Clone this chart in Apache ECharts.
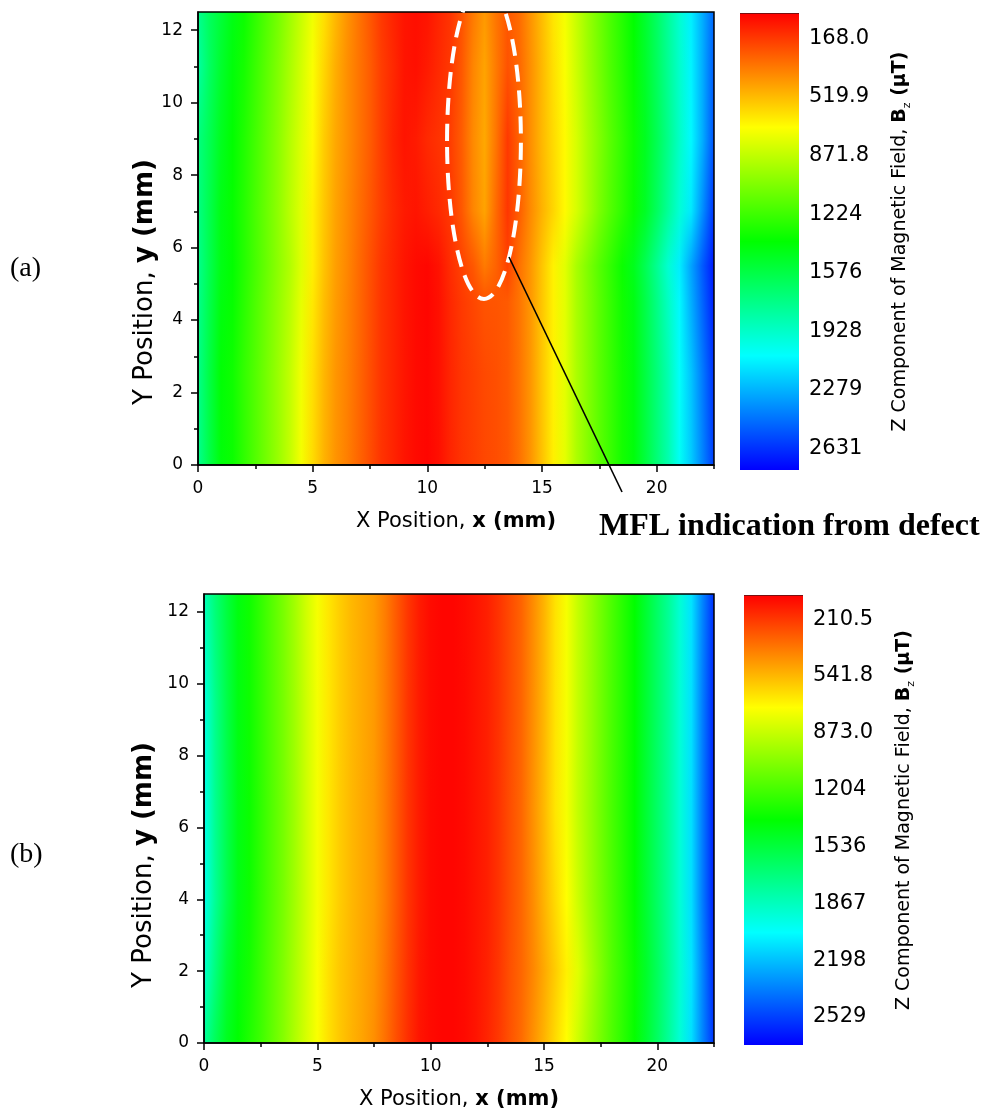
<!DOCTYPE html>
<html><head><meta charset="utf-8">
<script src="https://cdn.jsdelivr.net/npm/echarts@6/dist/echarts.min.js"></script>
<style>html,body{margin:0;padding:0;background:#fff}#c{width:986px;height:1120px}</style>
</head><body><div id="c"></div>
<script>
// ---------- data (Bz in µT) ----------
const xs = [0,0.5,1,1.5,2,2.5,3,3.5,4,4.5,5,5.5,6,6.5,7,7.5,8,8.5,9,9.5,10,10.5,11,11.5,12,12.5,13,13.5,14,14.5,15,15.5,16,16.5,17,17.5,18,18.5,19,19.5,20,20.5,21,21.5,22,22.5];

// (a) with defect: rows at y positions
const ysA = [0, 2.5, 4.5, 5.5, 7, 9, 11, 12.5];
const bzA_y0    = [1773,1581,1416,1361,1265,1169,1073,977,867,730,606,496,414,359,291,222,153,112,71,43,30,57,112,153,181,208,222,249,318,414,538,661,771,922,1032,1141,1238,1334,1416,1553,1704,1855,2047,2212,2404,2596];
const bzA_y2_5  = [1760,1570,1400,1350,1255,1165,1070,975,870,740,615,505,420,362,295,225,155,112,72,44,32,60,115,158,185,212,228,255,322,420,545,665,775,925,1035,1145,1240,1336,1420,1560,1710,1865,2060,2230,2430,2630];
const bzA_y4_5  = [1765,1590,1430,1375,1280,1185,1090,995,895,770,640,525,435,372,300,228,156,112,70,42,30,60,120,170,205,240,245,258,325,422,548,668,778,930,1042,1150,1248,1345,1435,1580,1740,1910,2090,2290,2490,2680];
const bzA_y5_5  = [1770,1600,1445,1385,1295,1200,1105,1010,915,790,660,540,445,378,305,232,158,112,70,42,32,65,135,190,249,345,280,190,318,420,545,668,780,935,1050,1160,1260,1360,1460,1610,1775,1950,2120,2320,2520,2700];
const bzA_y7    = [1745,1595,1443,1375,1292,1196,1100,1004,894,785,661,551,455,387,318,249,181,126,85,71,98,126,167,249,373,455,300,160,263,387,496,592,688,812,936,1059,1169,1265,1361,1485,1636,1800,1965,2130,2377,2624];
const bzA_y9    = [1732,1608,1471,1389,1306,1210,1114,1018,908,798,688,565,469,400,332,263,181,112,71,85,126,153,181,263,387,469,330,170,277,400,510,606,688,812,936,1045,1155,1251,1347,1471,1608,1759,1924,2088,2294,2541];
const bzA_y11   = [1828,1650,1512,1416,1334,1238,1141,1045,936,826,716,592,483,400,332,263,181,126,71,57,85,126,167,249,373,455,345,236,291,400,510,620,716,840,963,1073,1183,1279,1375,1498,1636,1786,1938,2102,2294,2514];
const bzA_y12_5 = [1773,1636,1540,1443,1361,1265,1169,1073,963,853,743,620,510,414,332,249,167,112,71,57,71,112,153,236,345,428,332,249,304,414,524,634,730,853,977,1087,1196,1292,1389,1512,1649,1800,1951,2116,2294,2487];

// (b) without defect
const ysB = [0, 2, 4, 6.5, 9.5, 12.5];
const bzB_y0    = [1774,1604,1460,1381,1302,1224,1132,1040,935,830,739,647,581,529,490,437,358,267,188,122,96,83,83,96,122,162,214,280,345,437,529,634,726,857,975,1079,1184,1276,1368,1499,1630,1774,1932,2115,2351,2561];
const bzB_y2    = [1905,1696,1512,1407,1329,1237,1145,1053,948,843,739,647,581,537,495,450,372,280,196,128,96,83,83,96,122,154,206,275,332,411,503,594,686,804,935,1053,1171,1263,1355,1486,1617,1761,1918,2102,2351,2587];
const bzB_y4    = [1984,1761,1578,1433,1350,1255,1163,1072,967,857,752,660,594,542,503,463,385,293,201,136,96,83,83,96,122,149,201,267,332,424,529,634,726,857,975,1079,1184,1281,1376,1507,1638,1774,1932,2115,2377,2613];
const bzB_y6_5  = [1984,1748,1578,1433,1355,1263,1171,1079,975,857,752,660,594,542,503,463,385,293,201,136,96,83,83,96,122,149,201,267,332,437,542,660,752,883,988,1093,1197,1289,1381,1512,1643,1774,1932,2115,2377,2613];
const bzB_y9_5  = [1958,1735,1565,1425,1348,1258,1166,1075,972,857,755,665,598,545,505,465,390,298,204,138,98,83,83,96,122,149,198,262,327,430,535,655,749,880,985,1090,1194,1286,1378,1510,1641,1772,1930,2112,2370,2600];
const bzB_y12_5 = [1853,1680,1540,1420,1345,1255,1163,1070,965,850,748,660,596,544,505,465,392,300,208,140,99,84,84,97,122,150,200,262,325,425,530,650,748,878,983,1088,1192,1285,1378,1510,1640,1770,1925,2105,2350,2570];

// colour-scale range and tick labels
const cbRangeA = [16, 2761];
const cbTicksA = [168.0, 519.9, 871.8, 1224, 1576, 1928, 2279, 2631];
const cbLabelsA = ['168.0','519.9','871.8','1224','1576','1928','2279','2631'];
const cbRangeB = [70, 2692];
const cbTicksB = [210.5, 541.8, 873.0, 1204, 1536, 1867, 2198, 2529];
const cbLabelsB = ['210.5','541.8','873.0','1204','1536','1867','2198','2529'];

const xMajor = [0,5,10,15,20];
const xMinor = [2.5,7.5,12.5,17.5,22.5];
const yMajor = [0,2,4,6,8,10,12];
const yMinor = [1,3,5,7,9,11];

// annotation (data coordinates of panel a)
const defectEllipse = {cx:12.47, cy:8.94, rx:1.61, ry:4.36};
const leaderLine = [[13.56,5.74],[18.49,-0.745]];

const rowsA = [bzA_y0,bzA_y2_5,bzA_y4_5,bzA_y5_5,bzA_y7,bzA_y9,bzA_y11,bzA_y12_5];
const rowsB = [bzB_y0,bzB_y2,bzB_y4,bzB_y6_5,bzB_y9_5,bzB_y12_5];

// ---------- colour map (red -> yellow -> green -> cyan -> blue) ----------
const cmapStops = [[255,0,0],[255,255,0],[0,255,0],[0,255,255],[0,0,255]];
function cmap(v, lo, hi){
  let t=(v-lo)/(hi-lo); t=Math.max(0,Math.min(1,t));
  const s=t*4; const i=Math.min(3,Math.floor(s)); const f=s-i;
  const a=cmapStops[i], b=cmapStops[i+1];
  return 'rgb('+[0,1,2].map(k=>Math.round(a[k]+(b[k]-a[k])*f)).join(',')+')';
}
function rowGrad(row, lo, hi){
  const x0=xs[0], x1=xs[xs.length-1];
  return new echarts.graphic.LinearGradient(0,0,1,0, row.map((v,j)=>({offset:(xs[j]-x0)/(x1-x0), color:cmap(v,lo,hi)})));
}
function heatRender(rows, range){
  return function(params, api){
    const y0=api.value(0), y1=api.value(1), i=api.value(2);
    const pTL=api.coord([xs[0], y1]), pBR=api.coord([xs[xs.length-1], y0]);
    const x=pTL[0], w=pBR[0]-pTL[0];
    const top=Math.round(pTL[1]), bot=Math.round(pBR[1]);
    const h=bot-top;
    const children=[];
    for(let py=top; py<bot; py++){
      const tHi = 1-((py+0.5-top)/h);
      children.push({type:'rect', silent:true, shape:{x:x,y:py,width:w,height:1}, style:{fill:rowGrad(rows[i],range[0],range[1])}});
      children.push({type:'rect', silent:true, shape:{x:x,y:py,width:w,height:1}, style:{fill:rowGrad(rows[i+1],range[0],range[1]), opacity:tHi}});
    }
    return {type:'group', children};
  };
}
function barRender(params, api){
  const lo=api.value(0), hi=api.value(1);
  const p0=api.coord([0,lo]), p1=api.coord([1,hi]);
  const stops=cmapStops.map((c,i)=>({offset:i/4, color:'rgb('+c.join(',')+')'}));
  const x=p0[0], y=Math.min(p0[1],p1[1]), w=p1[0]-p0[0];
  return {type:'group', children:[
    {type:'rect', shape:{x:x, y:y, width:w, height:Math.abs(p1[1]-p0[1])}, style:{fill:new echarts.graphic.LinearGradient(0,0,0,1,stops)}},
    {type:'line', shape:{x1:x, y1:y+0.5, x2:x+w, y2:y+0.5}, style:{stroke:'#7a1010', lineWidth:1}}
  ]};
}
function annotRender(params, api){
  const c=api.coord([defectEllipse.cx, defectEllipse.cy]);
  const s=api.size([defectEllipse.rx, defectEllipse.ry]);
  const a=api.coord(leaderLine[0]), b=api.coord(leaderLine[1]);
  return {type:'group', children:[
    {type:'ellipse', shape:{cx:c[0], cy:c[1], rx:s[0], ry:s[1]}, style:{fill:null, stroke:'#fff', lineWidth:4, lineDash:[17,9]}},
    {type:'line', shape:{x1:a[0], y1:a[1], x2:b[0], y2:b[1]}, style:{stroke:'#000', lineWidth:1.6}}
  ]};
}

// ---------- axes ----------
const FONT='DejaVu Sans';
const lineStyle={color:'#000', width:1.5};
function xMain(grid){
  return {gridIndex:grid, type:'value', min:0, max:22.5, position:'bottom', z:10,
    axisLine:{show:true, onZero:false, lineStyle}, splitLine:{show:false},
    axisTick:{show:true, customValues:xMajor, length:7, lineStyle},
    axisLabel:{customValues:xMajor, fontFamily:FONT, fontSize:17, color:'#000', margin:15},
    name:'{n|X Position, }{b|x (mm)}', nameLocation:'middle', nameGap:46,
    nameTextStyle:{rich:{n:{fontFamily:FONT,fontSize:21,color:'#000'}, b:{fontFamily:FONT,fontSize:21,fontWeight:'bold',color:'#000'}}}};
}
function xMin(grid){
  return {gridIndex:grid, type:'value', min:0, max:22.5, position:'bottom', z:10,
    axisLine:{show:false}, splitLine:{show:false}, axisLabel:{show:false},
    axisTick:{show:true, customValues:xMinor, length:4, lineStyle}};
}
function yMain(grid, gap, shiftPad){
  return {gridIndex:grid, type:'value', min:0, max:12.5, position:'left', z:10,
    axisLine:{show:true, onZero:false, lineStyle}, splitLine:{show:false},
    axisTick:{show:true, customValues:yMajor, length:7, lineStyle},
    axisLabel:{customValues:yMajor, fontFamily:FONT, fontSize:17, color:'#000', margin:15},
    name:'{n|Y Position, }{b|y (mm)}', nameLocation:'middle', nameGap:gap, nameRotate:90, nameMoveOverlap:false,
    nameTextStyle:{padding:[0,shiftPad,0,0], rich:{n:{fontFamily:FONT,fontSize:26,color:'#000'}, b:{fontFamily:FONT,fontSize:26,fontWeight:'bold',color:'#000'}}}};
}
function yMin(grid){
  return {gridIndex:grid, type:'value', min:0, max:12.5, position:'left', z:10,
    axisLine:{show:false}, splitLine:{show:false}, axisLabel:{show:false},
    axisTick:{show:true, customValues:yMinor, length:4, lineStyle}};
}
function cbX(grid){ return {gridIndex:grid, type:'value', min:0, max:1, show:false}; }
function cbY(grid, range, ticks, labels){
  return {gridIndex:grid, type:'value', min:range[0], max:range[1], inverse:true, position:'right',
    axisLine:{show:false}, axisTick:{show:false}, splitLine:{show:false},
    axisLabel:{customValues:ticks, fontFamily:FONT, fontSize:21, color:'#000', margin:10,
      formatter:(v)=>{ const k=ticks.findIndex(t=>Math.abs(t-v)<1e-6); return k>=0?labels[k]:''; }},
    name:'{n|Z Component of Magnetic Field, }{b|B}{s|z}{b| (µT)}', nameLocation:'middle', nameGap:88, nameRotate:90,
    nameTextStyle:{rich:{
      n:{fontFamily:FONT,fontSize:19,color:'#000',lineHeight:26,verticalAlign:'middle'},
      b:{fontFamily:FONT,fontSize:19,fontWeight:'bold',color:'#000',lineHeight:26,verticalAlign:'middle'},
      s:{fontFamily:FONT,fontSize:11,color:'#000',lineHeight:26,verticalAlign:'bottom'}}}};
}

const gridBorder={show:true, z:3, borderColor:'#000', borderWidth:1.5, backgroundColor:'rgba(0,0,0,0)'};
const option={
  animation:false,
  backgroundColor:'#fff',
  grid:[
    Object.assign({left:198, top:12, width:516, height:453}, gridBorder),
    Object.assign({left:204, top:594, width:510, height:449}, gridBorder),
    {left:740, top:13, width:59, height:457, show:false},
    {left:744, top:595, width:59, height:450, show:false}
  ],
  xAxis:[xMain(0), xMin(0), xMain(1), xMin(1), cbX(2), cbX(3)],
  yAxis:[yMain(0,40,87), yMin(0), yMain(1,47,93), yMin(1), cbY(2,cbRangeA,cbTicksA,cbLabelsA), cbY(3,cbRangeB,cbTicksB,cbLabelsB)],
  series:[
    {type:'custom', name:'Bz (a)', xAxisIndex:0, yAxisIndex:0, z:2, silent:true, clip:true,
      renderItem:heatRender(rowsA, cbRangeA), data:ysA.slice(0,-1).map((y,i)=>[y, ysA[i+1], i])},
    {type:'custom', name:'Bz (b)', xAxisIndex:2, yAxisIndex:2, z:2, silent:true, clip:true,
      renderItem:heatRender(rowsB, cbRangeB), data:ysB.slice(0,-1).map((y,i)=>[y, ysB[i+1], i])},
    {type:'custom', name:'colour scale (a)', xAxisIndex:4, yAxisIndex:4, silent:true,
      renderItem:barRender, data:[[cbRangeA[0], cbRangeA[1]]]},
    {type:'custom', name:'colour scale (b)', xAxisIndex:5, yAxisIndex:5, silent:true,
      renderItem:barRender, data:[[cbRangeB[0], cbRangeB[1]]]},
    {type:'custom', name:'defect', xAxisIndex:0, yAxisIndex:0, z:6, silent:true, clip:false,
      renderItem:annotRender, data:[[defectEllipse.cx, defectEllipse.cy]]}
  ],
  graphic:[
    {type:'text', left:10, top:255, style:{text:'(a)', fontFamily:'Liberation Serif', fontSize:28, fill:'#000'}},
    {type:'text', left:10, top:841, style:{text:'(b)', fontFamily:'Liberation Serif', fontSize:28, fill:'#000'}},
    {type:'text', left:599, top:511, style:{text:'MFL indication from defect', fontFamily:'Liberation Serif', fontSize:32, fontWeight:'bold', fill:'#000'}}
  ]
};
const chart=echarts.init(document.getElementById('c'), null, {renderer:'canvas'});
chart.setOption(option);
</script></body></html>
